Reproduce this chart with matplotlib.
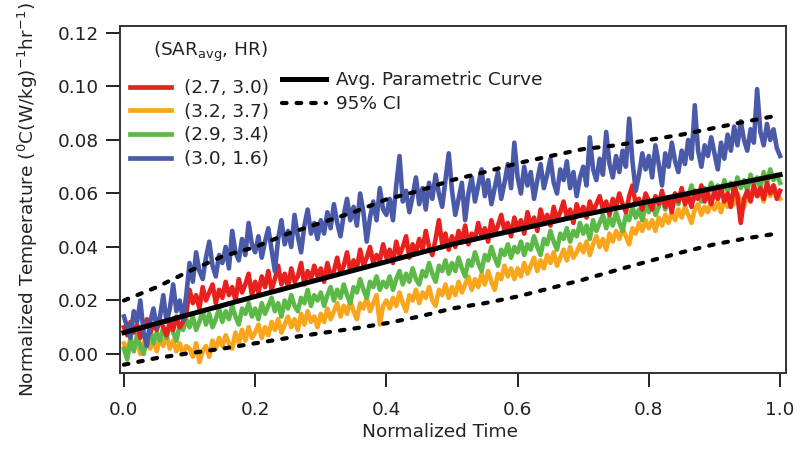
import numpy as np
import matplotlib
matplotlib.use("Agg")
import matplotlib.pyplot as plt
from matplotlib.lines import Line2D

# =====================================================
# Data (x = normalized time, step 0.005)
# =====================================================
time = np.linspace(0.0, 1.0, 201)

blue_16 = [
    0.014, 0.010, 0.006, 0.016, 0.012, 0.020, 0.008, 0.003, 0.012, 0.017, 0.010, 0.014, 0.022, 0.012, 0.017, 0.026, 0.016, 0.020, 0.013, 0.022,
    0.034, 0.027, 0.038, 0.031, 0.028, 0.036, 0.042, 0.033, 0.029, 0.037, 0.034, 0.040, 0.032, 0.046, 0.038, 0.035, 0.043, 0.037, 0.049, 0.041,
    0.038, 0.044, 0.036, 0.042, 0.047, 0.039, 0.031, 0.043, 0.050, 0.041, 0.046, 0.040, 0.052, 0.044, 0.038, 0.048, 0.054, 0.045, 0.049, 0.043,
    0.050, 0.045, 0.053, 0.047, 0.056, 0.049, 0.044, 0.052, 0.058, 0.050, 0.055, 0.048, 0.060, 0.053, 0.042, 0.051, 0.057, 0.050, 0.062, 0.054,
    0.052, 0.058, 0.050, 0.063, 0.074, 0.057, 0.061, 0.053, 0.059, 0.066, 0.056, 0.062, 0.054, 0.064, 0.058, 0.067, 0.060, 0.055, 0.065, 0.075,
    0.061, 0.052, 0.058, 0.064, 0.050, 0.060, 0.066, 0.057, 0.063, 0.069, 0.059, 0.065, 0.056, 0.062, 0.068, 0.058, 0.064, 0.071, 0.062, 0.079,
    0.066, 0.060, 0.070, 0.063, 0.068, 0.058, 0.065, 0.071, 0.062, 0.067, 0.073, 0.064, 0.060, 0.069, 0.065, 0.072, 0.062, 0.068, 0.059, 0.066,
    0.070, 0.063, 0.081, 0.069, 0.065, 0.073, 0.067, 0.083, 0.071, 0.066, 0.074, 0.068, 0.076, 0.070, 0.088, 0.072, 0.061, 0.067, 0.075, 0.069,
    0.074, 0.066, 0.078, 0.071, 0.063, 0.075, 0.070, 0.079, 0.072, 0.068, 0.076, 0.071, 0.080, 0.073, 0.093, 0.076, 0.070, 0.078, 0.074, 0.081,
    0.075, 0.069, 0.079, 0.073, 0.082, 0.076, 0.085, 0.078, 0.087, 0.080, 0.076, 0.084, 0.079, 0.099, 0.083, 0.078, 0.086, 0.080, 0.084, 0.077,
    0.074,
]

red_30 = [
    0.010, 0.007, 0.012, 0.008, 0.011, 0.006, 0.010, 0.013, 0.008, 0.011, 0.009, 0.013, 0.010, 0.007, 0.012, 0.009, 0.014, 0.010, 0.012, 0.015,
    0.024, 0.019, 0.022, 0.017, 0.025, 0.020, 0.023, 0.026, 0.019, 0.024, 0.021, 0.027, 0.022, 0.025, 0.020, 0.028, 0.023, 0.026, 0.030, 0.022,
    0.027, 0.023, 0.029, 0.025, 0.031, 0.024, 0.028, 0.033, 0.026, 0.030, 0.025, 0.032, 0.027, 0.029, 0.034, 0.026, 0.031, 0.028, 0.033, 0.029,
    0.032, 0.027, 0.034, 0.029, 0.031, 0.036, 0.030, 0.033, 0.038, 0.031, 0.035, 0.032, 0.039, 0.033, 0.036, 0.040, 0.034, 0.037, 0.035, 0.041,
    0.036, 0.039, 0.034, 0.042, 0.037, 0.040, 0.044, 0.036, 0.041, 0.038, 0.043, 0.039, 0.046, 0.040, 0.037, 0.043, 0.050, 0.041, 0.045, 0.039,
    0.044, 0.040, 0.046, 0.042, 0.048, 0.041, 0.045, 0.043, 0.049, 0.044, 0.047, 0.042, 0.050, 0.045, 0.048, 0.052, 0.046, 0.049, 0.044, 0.051,
    0.047, 0.050, 0.045, 0.053, 0.048, 0.051, 0.046, 0.054, 0.049, 0.052, 0.048, 0.055, 0.050, 0.053, 0.057, 0.051, 0.054, 0.049, 0.056, 0.052,
    0.055, 0.051, 0.057, 0.053, 0.056, 0.059, 0.054, 0.057, 0.052, 0.058, 0.055, 0.060, 0.056, 0.053, 0.059, 0.063, 0.056, 0.058, 0.054, 0.060,
    0.057, 0.054, 0.059, 0.056, 0.061, 0.055, 0.058, 0.053, 0.060, 0.057, 0.062, 0.056, 0.059, 0.055, 0.061, 0.058, 0.063, 0.057, 0.060, 0.056,
    0.061, 0.058, 0.062, 0.057, 0.060, 0.055, 0.063, 0.059, 0.049, 0.058, 0.061, 0.057, 0.063, 0.059, 0.062, 0.058, 0.064, 0.060, 0.063, 0.058,
    0.061,
]

green_34 = [
    0.002, -0.002, 0.005, 0.001, 0.007, 0.003, 0.000, 0.006, 0.009, 0.004, 0.008, 0.005, 0.010, 0.006, 0.012, 0.008, 0.005, 0.011, 0.009, 0.013,
    0.010, 0.014, 0.009, 0.012, 0.016, 0.011, 0.015, 0.010, 0.013, 0.017, 0.012, 0.016, 0.013, 0.018, 0.014, 0.011, 0.017, 0.015, 0.019, 0.014,
    0.017, 0.013, 0.019, 0.015, 0.018, 0.021, 0.016, 0.019, 0.014, 0.020, 0.017, 0.022, 0.018, 0.016, 0.021, 0.019, 0.024, 0.018, 0.022, 0.020,
    0.023, 0.018, 0.022, 0.025, 0.020, 0.024, 0.021, 0.026, 0.022, 0.019, 0.025, 0.023, 0.028, 0.024, 0.021, 0.027, 0.025, 0.029, 0.024, 0.027,
    0.025, 0.029, 0.024, 0.028, 0.031, 0.026, 0.030, 0.027, 0.032, 0.028, 0.026, 0.031, 0.029, 0.034, 0.030, 0.027, 0.033, 0.031, 0.035, 0.030,
    0.034, 0.031, 0.036, 0.032, 0.029, 0.035, 0.033, 0.038, 0.034, 0.031, 0.037, 0.035, 0.040, 0.036, 0.033, 0.039, 0.037, 0.041, 0.036, 0.040,
    0.038, 0.042, 0.037, 0.041, 0.039, 0.044, 0.040, 0.037, 0.043, 0.041, 0.046, 0.042, 0.039, 0.045, 0.043, 0.047, 0.042, 0.046, 0.044, 0.049,
    0.045, 0.048, 0.043, 0.050, 0.046, 0.049, 0.052, 0.047, 0.051, 0.048, 0.053, 0.049, 0.046, 0.052, 0.050, 0.055, 0.051, 0.054, 0.050, 0.056,
    0.053, 0.057, 0.052, 0.055, 0.059, 0.054, 0.058, 0.055, 0.060, 0.056, 0.061, 0.057, 0.059, 0.063, 0.058, 0.061, 0.057, 0.062, 0.060, 0.064,
    0.060, 0.063, 0.059, 0.065, 0.061, 0.064, 0.060, 0.066, 0.062, 0.065, 0.061, 0.067, 0.063, 0.066, 0.062, 0.068, 0.064, 0.069, 0.065, 0.067,
    0.064,
]

orange_37 = [
    0.004, 0.001, 0.006, 0.002, 0.005, 0.000, 0.004, 0.007, 0.002, 0.005, 0.001, 0.006, 0.003, 0.007, 0.002, 0.005, 0.001, 0.004, 0.000, 0.003,
    0.002, -0.001, 0.004, -0.003, 0.001, 0.003, -0.001, 0.005, 0.002, 0.006, 0.003, 0.007, 0.004, 0.002, 0.008, 0.004, 0.009, 0.005, 0.010, 0.006,
    0.008, 0.011, 0.006, 0.010, 0.007, 0.012, 0.009, 0.013, 0.008, 0.011, 0.014, 0.010, 0.013, 0.009, 0.015, 0.011, 0.016, 0.012, 0.014, 0.010,
    0.015, 0.012, 0.017, 0.013, 0.016, 0.019, 0.014, 0.018, 0.015, 0.020, 0.016, 0.013, 0.019, 0.017, 0.021, 0.016, 0.019, 0.022, 0.011, 0.018,
    0.020, 0.017, 0.021, 0.018, 0.023, 0.019, 0.016, 0.022, 0.020, 0.024, 0.019, 0.023, 0.021, 0.025, 0.020, 0.018, 0.024, 0.022, 0.026, 0.021,
    0.025, 0.022, 0.027, 0.023, 0.026, 0.029, 0.024, 0.028, 0.025, 0.030, 0.026, 0.031, 0.027, 0.024, 0.030, 0.028, 0.033, 0.029, 0.032, 0.028,
    0.032, 0.029, 0.034, 0.030, 0.033, 0.036, 0.031, 0.035, 0.032, 0.037, 0.034, 0.038, 0.033, 0.036, 0.039, 0.035, 0.040, 0.036, 0.038, 0.041,
    0.038, 0.042, 0.037, 0.041, 0.044, 0.040, 0.043, 0.039, 0.045, 0.042, 0.046, 0.043, 0.047, 0.044, 0.041, 0.047, 0.045, 0.049, 0.046, 0.050,
    0.047, 0.050, 0.046, 0.051, 0.048, 0.052, 0.049, 0.053, 0.050, 0.054, 0.051, 0.055, 0.052, 0.049, 0.054, 0.056, 0.052, 0.055, 0.053, 0.057,
    0.054, 0.057, 0.053, 0.058, 0.055, 0.059, 0.056, 0.060, 0.057, 0.055, 0.060, 0.058, 0.062, 0.059, 0.061, 0.057, 0.062, 0.059, 0.063, 0.060,
    0.058,
]

# fitted curve and confidence band
avg_x = [0.0, 0.1, 0.2, 0.3, 0.4, 0.5, 0.6, 0.7, 0.8, 0.9, 1.0]
avg_curve = [0.008, 0.0148, 0.0215, 0.028, 0.0345, 0.041, 0.0465, 0.052, 0.057, 0.062, 0.067]

ci_x = [0.0, 0.05, 0.1, 0.15, 0.2, 0.25, 0.3, 0.35, 0.4, 0.45, 0.5,
        0.55, 0.6, 0.65, 0.7, 0.75, 0.8, 0.85, 0.9, 0.95, 1.0]
ci_upper = [0.020, 0.025, 0.031, 0.0365, 0.040, 0.045, 0.049, 0.053, 0.0578, 0.061, 0.065,
            0.068, 0.0713, 0.074, 0.0766, 0.078, 0.080, 0.082, 0.0845, 0.087, 0.0893]
ci_lower = [-0.004, -0.0015, 0.0003, 0.002, 0.004, 0.006, 0.0078, 0.0095, 0.0115, 0.014, 0.017,
            0.019, 0.0215, 0.0246, 0.0278, 0.0313, 0.0347, 0.038, 0.041, 0.0433, 0.0452]

labels = ["(2.7, 3.0)", "(3.2, 3.7)", "(2.9, 3.4)", "(3.0, 1.6)"]
colors = ["#e8211f", "#f9a61c", "#5cb947", "#4a5aa9"]

# =====================================================
# Plot
# =====================================================
plt.rcParams["font.family"] = ["DejaVu Sans"]
plt.rcParams["font.size"] = 13.3

fig = plt.figure(figsize=(8.0, 4.53), dpi=100)
ax = fig.add_axes([0.15, 0.1766, 0.8325, 0.766])

lw = 3.3
ax.plot(time, orange_37, color=colors[1], lw=lw)
ax.plot(time, green_34, color=colors[2], lw=lw)
ax.plot(time, red_30, color=colors[0], lw=lw)
ax.plot(time, blue_16, color=colors[3], lw=lw)

dot_style = dict(color="black", lw=3.0, linestyle=(0, (1.1, 2.4)), dash_capstyle="round")
ax.plot(avg_x, avg_curve, color="black", lw=3.6)
ax.plot(ci_x, ci_upper, **dot_style)
ax.plot(ci_x, ci_lower, **dot_style)

ax.set_xlim(-0.006, 1.009)
ax.set_ylim(-0.0071, 0.1226)
ax.set_xticks([0.0, 0.2, 0.4, 0.6, 0.8, 1.0])
ax.set_yticks([0.00, 0.02, 0.04, 0.06, 0.08, 0.10, 0.12])
ax.xaxis.set_major_formatter(matplotlib.ticker.FormatStrFormatter("%.1f"))
ax.yaxis.set_major_formatter(matplotlib.ticker.FormatStrFormatter("%.2f"))
ax.tick_params(axis="both", direction="out", length=10, width=1.4, colors="#222222",
               labelcolor="#222222")
ax.tick_params(axis="x", pad=10)
ax.tick_params(axis="y", pad=5)
for sp in ax.spines.values():
    sp.set_linewidth(1.4)
    sp.set_color("#333333")

ax.set_xlabel("Normalized Time", color="#222222")
ax.xaxis.set_label_coords(0.48, -0.145)
ax.set_ylabel("Normalized Temperature ($^{0}$C(W/kg)$^{-1}$hr$^{-1}$)", color="#222222")
ax.yaxis.set_label_coords(-0.12, 0.5)

# legends
fig.text(211 / 800, 1 - 52 / 453, "(SAR$_{\\mathrm{avg}}$, HR)", ha="center", va="center",
         color="#222222")
handles = [Line2D([], [], color=c, lw=3.4) for c in colors]
leg1 = ax.legend(handles, labels, loc="upper left", bbox_to_anchor=(130 / 800, 1 - 79 / 453),
                 bbox_transform=fig.transFigure, frameon=False,
                 handlelength=2.2, handletextpad=0.7, labelspacing=0.31,
                 borderpad=0, borderaxespad=0)
for t in leg1.get_texts():
    t.set_color("#222222")
ax.add_artist(leg1)

fit_handles = [Line2D([], [], color="black", lw=3.6),
               Line2D([], [], **dot_style)]
leg2 = ax.legend(fit_handles, ["Avg. Parametric Curve", "95% CI"], loc="upper left",
                 bbox_to_anchor=(282 / 800, 1 - 71 / 453), bbox_transform=fig.transFigure,
                 frameon=False, handlelength=2.4, handletextpad=0.55, labelspacing=0.33,
                 borderpad=0, borderaxespad=0)
for t in leg2.get_texts():
    t.set_color("#222222")

fig.savefig("out.png", dpi=100)
plt.close(fig)
